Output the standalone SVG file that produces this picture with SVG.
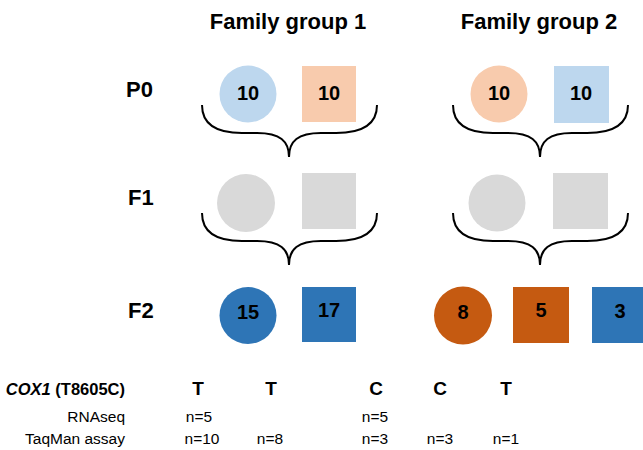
<svg xmlns="http://www.w3.org/2000/svg" width="643" height="450" viewBox="0 0 643 450">
  <style>
    text { font-family: "Liberation Sans", Arial, sans-serif; fill: #000; }
    .title { font-size: 22px; font-weight: bold; text-anchor: middle; }
    .gen { font-size: 22px; font-weight: bold; }
    .num { font-size: 20px; font-weight: bold; text-anchor: middle; }
    .allele { font-size: 19px; font-weight: bold; text-anchor: middle; }
    .row { font-size: 15.5px; text-anchor: end; }
    .cnt { font-size: 15.5px; text-anchor: middle; }
    .brace { fill: none; stroke: #000; stroke-width: 2; }
    .lblue { fill: #bdd7ee; }
    .lorange { fill: #f8cbad; }
    .grey { fill: #d9d9d9; }
    .blue { fill: #2e75b6; }
    .orange { fill: #c55a11; }
  </style>
  <defs>
    <path id="brace" class="brace" d="M0,0 C0,18 12,28 40,28 L55,28 C78,28 87,36 87,52 C87,36 96,28 119,28 L134,28 C162,28 175,18 175,0"/>
  </defs>

  <!-- column titles -->
  <text class="title" x="288" y="29">Family group 1</text>
  <text class="title" x="539" y="29">Family group 2</text>

  <!-- generation labels -->
  <text class="gen" x="126" y="97">P0</text>
  <text class="gen" x="128" y="205">F1</text>
  <text class="gen" x="128" y="318">F2</text>

  <!-- parents -->
  <g id="p0-g1-female">
    <circle class="lblue" cx="248" cy="94" r="28.5"/>
    <text class="num" x="248" y="100">10</text>
  </g>
  <g id="p0-g1-male">
    <rect class="lorange" x="302" y="66" width="54" height="56"/>
    <text class="num" x="329" y="100">10</text>
  </g>
  <g id="p0-g2-female">
    <circle class="lorange" cx="499" cy="94" r="28.5"/>
    <text class="num" x="499" y="100">10</text>
  </g>
  <g id="p0-g2-male">
    <rect class="lblue" x="554" y="66" width="55" height="57"/>
    <text class="num" x="581" y="100">10</text>
  </g>

  <!-- first generation -->
  <g id="f1-g1-female"><circle class="grey" cx="246" cy="203" r="29"/></g>
  <g id="f1-g1-male"><rect class="grey" x="302" y="173" width="54" height="56"/></g>
  <g id="f1-g2-female"><circle class="grey" cx="497" cy="203" r="28.5"/></g>
  <g id="f1-g2-male"><rect class="grey" x="553" y="173" width="55" height="56"/></g>

  <!-- second generation -->
  <g id="f2-g1-female">
    <circle class="blue" cx="248" cy="315.5" r="28.5"/>
    <text class="num" x="248" y="319">15</text>
  </g>
  <g id="f2-g1-male">
    <rect class="blue" x="302" y="287" width="54" height="55"/>
    <text class="num" x="329" y="317">17</text>
  </g>
  <g id="f2-g2-female">
    <circle class="orange" cx="463" cy="315.5" r="29"/>
    <text class="num" x="463" y="319">8</text>
  </g>
  <g id="f2-g2-male-c">
    <rect class="orange" x="513" y="287" width="56" height="56"/>
    <text class="num" x="541" y="317">5</text>
  </g>
  <g id="f2-g2-male-t">
    <rect class="blue" x="592" y="287" width="56" height="56"/>
    <text class="num" x="620" y="318">3</text>
  </g>

  <!-- crosses -->
  <g id="connectors">
    <use href="#brace" x="202" y="105"/>
    <use href="#brace" x="453" y="105"/>
    <use href="#brace" x="202" y="213"/>
    <use href="#brace" x="453" y="213"/>
  </g>

  <!-- genotype table -->
  <g id="table">
    <text x="125" y="395" text-anchor="end" style="font-size:16.5px;font-weight:bold"><tspan font-style="italic">COX1</tspan> (T8605C)</text>
    <text class="allele" x="198" y="395">T</text>
    <text class="allele" x="271" y="395">T</text>
    <text class="allele" x="376" y="395">C</text>
    <text class="allele" x="440" y="395">C</text>
    <text class="allele" x="506" y="395">T</text>

    <text class="row" x="125" y="422">RNAseq</text>
    <text class="cnt" x="199" y="422">n=5</text>
    <text class="cnt" x="375" y="422">n=5</text>

    <text class="row" x="125" y="444">TaqMan assay</text>
    <text class="cnt" x="202" y="444">n=10</text>
    <text class="cnt" x="270" y="444">n=8</text>
    <text class="cnt" x="375" y="444">n=3</text>
    <text class="cnt" x="440" y="444">n=3</text>
    <text class="cnt" x="506" y="444">n=1</text>
  </g>
</svg>
